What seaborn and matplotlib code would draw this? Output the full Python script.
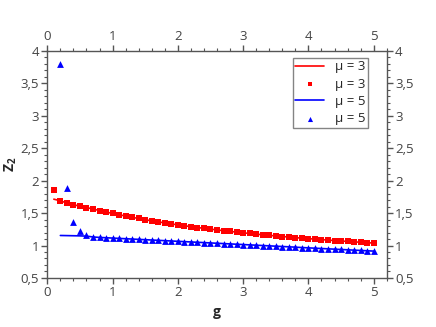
import numpy as np
import pandas as pd
import matplotlib
matplotlib.use("Agg")
import matplotlib.pyplot as plt
import seaborn as sns
from matplotlib.ticker import MultipleLocator, FuncFormatter

# ---- data ----
g_red = [round(0.1 * i, 1) for i in range(1, 51)]
z_red_pts = [1.85, 1.69, 1.655, 1.63, 1.607, 1.586, 1.563, 1.54, 1.517, 1.495,
             1.475, 1.455, 1.435, 1.417, 1.398, 1.381, 1.365, 1.349, 1.334, 1.319,
             1.305, 1.291, 1.278, 1.265, 1.253, 1.241, 1.229, 1.218, 1.207, 1.196,
             1.186, 1.176, 1.166, 1.157, 1.148, 1.139, 1.131, 1.122, 1.114, 1.106,
             1.099, 1.091, 1.084, 1.077, 1.070, 1.063, 1.057, 1.050, 1.044, 1.038]
z_red_line = [1.715] + z_red_pts[1:]

g_blue = [round(0.1 * i, 1) for i in range(2, 51)]
z_blue_pts = [3.80, 1.89, 1.365, 1.222, 1.163, 1.132, 1.125, 1.12, 1.115,
              1.11, 1.105, 1.10, 1.095, 1.09, 1.085, 1.08, 1.075, 1.07, 1.065,
              1.06, 1.055, 1.05, 1.045, 1.04, 1.035, 1.03, 1.025, 1.02, 1.015,
              1.01, 1.005, 1.0, 0.995, 0.99, 0.985, 0.98, 0.975, 0.969, 0.964,
              0.959, 0.954, 0.949, 0.944, 0.939, 0.934, 0.929, 0.924, 0.919, 0.914]
z_blue_line = [1.155, 1.153, 1.151, 1.149, 1.145, 1.132] + z_blue_pts[6:]

labels = ["\u03bc = 3", "\u03bc = 3", "\u03bc = 5", "\u03bc = 5"]

# ---- style ----
sns.set_style("white")
plt.rcParams['font.family'] = ['Open Sans', 'DejaVu Sans']
plt.rcParams['mathtext.fontset'] = 'custom'
plt.rcParams['mathtext.bf'] = 'Open Sans:bold'
plt.rcParams['mathtext.rm'] = 'Open Sans'

fig = plt.figure(figsize=(4.36, 3.27), dpi=100)
ax = fig.add_axes([0.1085, 0.150, 0.7785, 0.694])

df_rl = pd.DataFrame({"g": g_red, "z": z_red_line})
df_rp = pd.DataFrame({"g": g_red, "z": z_red_pts})
df_bl = pd.DataFrame({"g": g_blue, "z": z_blue_line})
df_bp = pd.DataFrame({"g": g_blue, "z": z_blue_pts})

red = "#ff0000"
blue = "#0000ff"
sns.lineplot(data=df_rl, x="g", y="z", ax=ax, color=red, lw=1.2, label=labels[0])
sns.scatterplot(data=df_rp, x="g", y="z", ax=ax, color=red, marker="s", s=16,
                linewidth=0, label=labels[1])
sns.lineplot(data=df_bl, x="g", y="z", ax=ax, color=blue, lw=1.2, label=labels[2])
sns.scatterplot(data=df_bp, x="g", y="z", ax=ax, color=blue, marker="^", s=24,
                linewidth=0, label=labels[3])

ax.set_xlim(0, 5.2)
ax.set_ylim(0.5, 4)

spine_c = "#555555"
for s in ax.spines.values():
    s.set_visible(True)
    s.set_color(spine_c)
    s.set_linewidth(1.0)

ax.xaxis.set_major_locator(MultipleLocator(1))
ax.xaxis.set_minor_locator(MultipleLocator(0.2))
ax.yaxis.set_major_locator(MultipleLocator(0.5))
ax.yaxis.set_minor_locator(MultipleLocator(0.1))
fmt = FuncFormatter(lambda v, p: ("%g" % v).replace(".", ","))
ax.xaxis.set_major_formatter(fmt)
ax.yaxis.set_major_formatter(fmt)

ax.tick_params(which="both", direction="out", color=spine_c, labelcolor="#444444",
               top=True, right=True, labeltop=True, labelright=True,
               bottom=True, left=True, labelsize=9.5, pad=2)
ax.tick_params(which="major", length=4, width=1)
ax.tick_params(which="minor", length=2, width=0.8)

ax.set_xlabel("g", fontweight="bold", fontsize=10, labelpad=4)
ax.set_ylabel(r"Z$_{\mathbf{2}}$", fontweight="bold", fontsize=10, labelpad=1)

leg = ax.legend(loc="upper right", bbox_to_anchor=(0.945, 0.97), frameon=True,
                fancybox=False, edgecolor="#666666", fontsize=9.5,
                handlelength=2.2, handletextpad=0.8, borderpad=0.2,
                labelspacing=0.32, borderaxespad=0, markerscale=0.75)
leg.get_frame().set_linewidth(1.0)

fig.savefig("out.png", dpi=100, facecolor="white")
